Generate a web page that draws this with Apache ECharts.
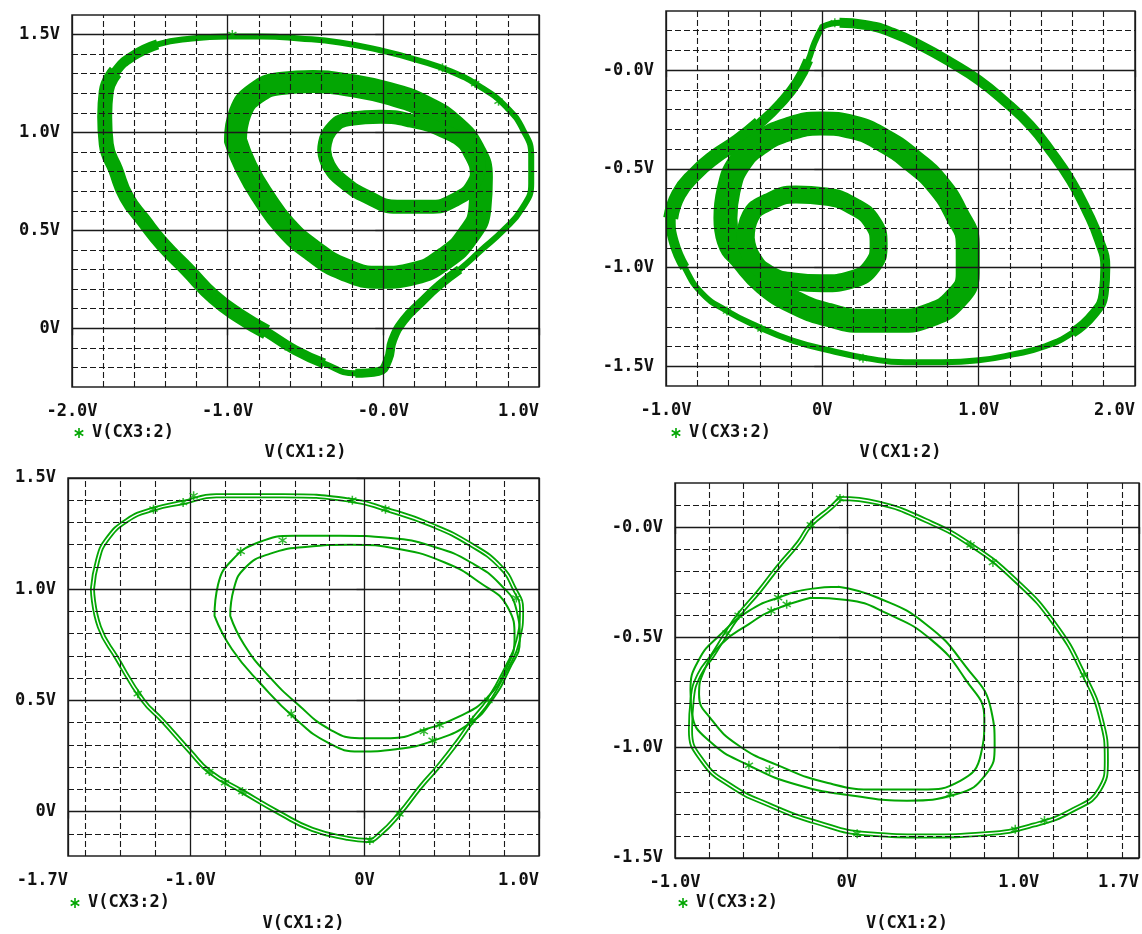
<!DOCTYPE html>
<html><head><meta charset="utf-8">
<script src="https://cdn.jsdelivr.net/npm/echarts@6/dist/echarts.min.js"></script>
<style>html,body{margin:0;padding:0;background:#fff}#c{width:1142px;height:934px}</style>
</head><body><div id="c"></div>
<script>
const GREEN = '#03a603';
const INK = '#111111';
const FONT = '"DejaVu Sans Mono", monospace';

// ---------- tick labels ----------
const tlXTicks = [-2, -1, 0, 1];      const tlXText = ['-2.0V', '-1.0V', '-0.0V', '1.0V'];
const tlYTicks = [0, 0.5, 1.0, 1.5];  const tlYText = ['0V', '0.5V', '1.0V', '1.5V'];
const trXTicks = [-1, 0, 1, 2];       const trXText = ['-1.0V', '0V', '1.0V', '2.0V'];
const trYTicks = [-1.5, -1.0, -0.5, 0]; const trYText = ['-1.5V', '-1.0V', '-0.5V', '-0.0V'];
const blXTicks = [-1.7, -1, 0, 1];    const blXText = ['-1.7V', '-1.0V', '0V', '1.0V'];
const blYTicks = [0, 0.5, 1.0, 1.5];  const blYText = ['0V', '0.5V', '1.0V', '1.5V'];
const brXTicks = [-1, 0, 1, 1.7];     const brXText = ['-1.0V', '0V', '1.0V', '1.7V'];
const brYTicks = [-1.5, -1.0, -0.5, 0]; const brYText = ['-1.5V', '-1.0V', '-0.5V', '-0.0V'];

// ---------- grid line values ----------
const tlXMinor = [-1.8,-1.6,-1.4,-1.2,-0.8,-0.6,-0.4,-0.2,0.2,0.4,0.6,0.8];
const tlYMinor = [-0.2,-0.1,0.1,0.2,0.3,0.4,0.6,0.7,0.8,0.9,1.1,1.2,1.3,1.4];
const trXMinor = [-0.8,-0.6,-0.4,-0.2,0.2,0.4,0.6,0.8,1.2,1.4,1.6,1.8];
const trYMinor = [-1.4,-1.3,-1.2,-1.1,-0.9,-0.8,-0.7,-0.6,-0.4,-0.3,-0.2,-0.1,0.1,0.2];
const blXMinor = [-1.6,-1.4,-1.2,-0.8,-0.6,-0.4,-0.2,0.2,0.4,0.6,0.8];
const blYMinor = [-0.1,0.1,0.2,0.3,0.4,0.6,0.7,0.8,0.9,1.1,1.2,1.3,1.4];
const brXMinor = [-0.8,-0.6,-0.4,-0.2,0.2,0.4,0.6,0.8,1.2,1.4,1.6];
const brYMinor = [-1.4,-1.3,-1.2,-1.1,-0.9,-0.8,-0.7,-0.6,-0.4,-0.3,-0.2,-0.1,0.1];

// ---------- traces: [V(CX1:2), V(CX3:2)] ----------
// top-left
const tlOuter = [[-1.00,1.49],[-0.78,1.49],[-0.54,1.48],[-0.28,1.46],[-0.02,1.42],[0.22,1.37],[0.44,1.31],[0.63,1.23],[0.79,1.13],[0.90,1.01],[0.95,0.88],[0.95,0.74],[0.89,0.61],[0.77,0.50],[0.63,0.40],[0.49,0.30],[0.36,0.22],[0.24,0.13],[0.13,0.04],[0.06,-0.06],[0.03,-0.16],[-0.03,-0.22],[-0.18,-0.23],[-0.38,-0.18],[-0.57,-0.11],[-0.75,-0.02],[-0.92,0.06],[-1.09,0.16],[-1.26,0.30],[-1.42,0.43],[-1.54,0.55],[-1.65,0.67],[-1.72,0.81],[-1.78,0.94],[-1.79,1.08],[-1.78,1.21],[-1.72,1.31],[-1.61,1.39],[-1.45,1.45],[-1.23,1.48],[-1.00,1.49]];
const tlOuterMid = [[-1.45,1.45],[-1.61,1.39],[-1.72,1.31],[-1.78,1.21],[-1.79,1.08],[-1.78,0.94],[-1.72,0.81],[-1.65,0.67],[-1.54,0.55],[-1.42,0.43],[-1.26,0.30],[-1.09,0.16],[-0.92,0.06],[-0.75,-0.02],[-0.57,-0.11],[-0.38,-0.18]];
const tlOuterThick = [[-1.72,1.31],[-1.78,1.21],[-1.79,1.08],[-1.78,0.94],[-1.72,0.81],[-1.65,0.67],[-1.54,0.55],[-1.42,0.43],[-1.26,0.30],[-1.09,0.16],[-0.92,0.06],[-0.75,-0.02]];
const tlCurl = [[0.49,0.30],[0.36,0.22],[0.24,0.13],[0.13,0.04],[0.06,-0.06],[0.03,-0.16],[-0.03,-0.22],[-0.18,-0.23]];
const tlRing = [[-0.95,0.96],[-0.92,1.10],[-0.82,1.20],[-0.66,1.25],[-0.45,1.26],[-0.21,1.24],[0.03,1.20],[0.27,1.13],[0.46,1.03],[0.58,0.91],[0.63,0.77],[0.62,0.61],[0.54,0.47],[0.40,0.36],[0.20,0.28],[-0.02,0.26],[-0.25,0.30],[-0.46,0.40],[-0.63,0.52],[-0.77,0.67],[-0.88,0.82],[-0.95,0.96]];
const tlSmall = [[-0.38,0.91],[-0.34,1.01],[-0.21,1.07],[-0.02,1.08],[0.18,1.06],[0.38,1.01],[0.54,0.93],[0.61,0.84],[0.58,0.74],[0.47,0.66],[0.29,0.62],[0.09,0.62],[-0.10,0.67],[-0.26,0.75],[-0.35,0.83],[-0.38,0.91]];
const tlMarks = [[-0.97,1.50],[0.38,1.33],[0.59,1.25],[0.74,1.16],[-1.09,0.16],[-0.63,-0.09]];

// top-right
const trOuter = [[0.00,0.22],[0.11,0.24],[0.27,0.23],[0.45,0.19],[0.64,0.12],[0.82,0.04],[1.00,-0.05],[1.17,-0.16],[1.33,-0.28],[1.47,-0.42],[1.59,-0.56],[1.69,-0.71],[1.77,-0.86],[1.81,-1.00],[1.80,-1.13],[1.73,-1.24],[1.60,-1.33],[1.42,-1.40],[1.22,-1.44],[1.00,-1.47],[0.77,-1.48],[0.53,-1.48],[0.29,-1.46],[0.05,-1.42],[-0.19,-1.37],[-0.41,-1.30],[-0.61,-1.22],[-0.77,-1.13],[-0.88,-1.00],[-0.95,-0.87],[-0.97,-0.75],[-0.92,-0.63],[-0.82,-0.53],[-0.69,-0.44],[-0.54,-0.36],[-0.40,-0.27],[-0.27,-0.17],[-0.16,-0.06],[-0.09,0.05],[-0.05,0.14],[0.00,0.22]];
const trArc = [[0.11,0.24],[0.27,0.23],[0.45,0.19],[0.64,0.12],[0.82,0.04],[1.00,-0.05],[1.17,-0.16],[1.33,-0.28],[1.47,-0.42],[1.59,-0.56],[1.69,-0.71],[1.77,-0.86],[1.81,-1.00],[1.80,-1.13],[1.73,-1.24],[1.60,-1.33]];
const trBandMid = [[-0.88,-1.00],[-0.95,-0.87],[-0.97,-0.75],[-0.92,-0.63],[-0.82,-0.53],[-0.69,-0.44],[-0.54,-0.36],[-0.40,-0.27],[-0.27,-0.17],[-0.16,-0.06],[-0.09,0.05]];
const trBandThick = [[-0.97,-0.75],[-0.92,-0.63],[-0.82,-0.53],[-0.69,-0.44],[-0.54,-0.36],[-0.40,-0.27]];
const trRing = [[-0.62,-0.75],[-0.60,-0.61],[-0.53,-0.47],[-0.40,-0.37],[-0.22,-0.30],[-0.01,-0.27],[0.20,-0.29],[0.40,-0.36],[0.58,-0.46],[0.74,-0.58],[0.86,-0.73],[0.93,-0.88],[0.93,-1.03],[0.85,-1.16],[0.69,-1.24],[0.48,-1.27],[0.26,-1.27],[0.04,-1.24],[-0.17,-1.18],[-0.37,-1.08],[-0.51,-0.96],[-0.60,-0.86],[-0.62,-0.75]];
const trSmall = [[-0.49,-0.85],[-0.46,-0.74],[-0.35,-0.67],[-0.17,-0.63],[0.02,-0.64],[0.20,-0.69],[0.32,-0.77],[0.36,-0.88],[0.32,-0.99],[0.19,-1.06],[0.00,-1.08],[-0.19,-1.07],[-0.35,-1.03],[-0.45,-0.95],[-0.49,-0.85]];
const trMarks = [[0.08,0.24],[-0.61,-1.22],[-0.39,-1.31],[0.26,-1.46],[1.81,-0.97],[1.20,-0.18]];

// bottom-left
const blOuter = [[-1.56,1.00],[-1.53,1.13],[-1.48,1.22],[-1.36,1.31],[-1.21,1.36],[-1.04,1.39],[-0.85,1.42],[-0.47,1.42],[-0.08,1.40],[0.12,1.36],[0.38,1.29],[0.61,1.20],[0.78,1.10],[0.86,1.00],[0.90,0.91],[0.88,0.77],[0.81,0.64],[0.71,0.50],[0.62,0.41],[0.53,0.31],[0.42,0.20],[0.32,0.11],[0.20,-0.01],[0.09,-0.10],[0.02,-0.13],[-0.10,-0.12],[-0.30,-0.08],[-0.48,-0.01],[-0.70,0.09],[-0.89,0.18],[-1.00,0.27],[-1.16,0.41],[-1.27,0.50],[-1.42,0.69],[-1.52,0.83],[-1.56,1.00]];
const blInnerA = [[-0.86,0.88],[-0.84,1.02],[-0.76,1.13],[-0.61,1.21],[-0.40,1.24],[-0.14,1.24],[0.15,1.23],[0.40,1.19],[0.61,1.12],[0.78,1.02],[0.87,0.91],[0.89,0.77],[0.83,0.64],[0.73,0.50],[0.61,0.40],[0.40,0.32],[0.18,0.28],[-0.03,0.27],[-0.21,0.31],[-0.40,0.42],[-0.59,0.57],[-0.76,0.73],[-0.86,0.88]];
const blInnerB = [[-0.77,0.88],[-0.75,1.00],[-0.68,1.10],[-0.54,1.16],[-0.34,1.19],[-0.08,1.20],[0.20,1.18],[0.46,1.12],[0.66,1.03],[0.82,0.92],[0.86,0.78],[0.81,0.64],[0.70,0.51],[0.55,0.43],[0.35,0.37],[0.15,0.33],[-0.03,0.33],[-0.20,0.37],[-0.38,0.48],[-0.55,0.61],[-0.69,0.75],[-0.77,0.88]];
const blMarks = [[-1.21,1.36],[-1.04,1.39],[-0.98,1.42],[-0.71,1.17],[-0.47,1.22],[-0.89,0.18],[-0.80,0.13],[-0.70,0.09],[-0.42,0.44],[0.03,-0.13],[0.20,-0.01],[0.34,0.36],[0.43,0.39],[0.39,0.32],[0.62,0.41],[0.71,0.50],[-0.07,1.40],[0.12,1.36],[0.87,0.96],[-1.30,0.53]];

// bottom-right
const brOuter = [[-0.04,0.13],[0.18,0.11],[0.46,0.03],[0.72,-0.08],[0.98,-0.24],[1.21,-0.44],[1.38,-0.67],[1.48,-0.87],[1.51,-1.06],[1.47,-1.19],[1.32,-1.28],[1.09,-1.35],[0.81,-1.39],[0.46,-1.40],[0.12,-1.39],[-0.17,-1.34],[-0.45,-1.26],[-0.68,-1.17],[-0.84,-1.06],[-0.91,-0.92],[-0.90,-0.78],[-0.86,-0.67],[-0.78,-0.58],[-0.70,-0.48],[-0.63,-0.40],[-0.51,-0.29],[-0.40,-0.18],[-0.28,-0.07],[-0.21,0.01],[-0.09,0.09],[-0.04,0.13]];
const brInnerA = [[-0.05,-0.27],[0.18,-0.32],[0.46,-0.44],[0.69,-0.63],[0.84,-0.83],[0.86,-0.99],[0.81,-1.12],[0.64,-1.21],[0.35,-1.24],[0.06,-1.22],[-0.28,-1.17],[-0.57,-1.08],[-0.80,-0.97],[-0.90,-0.85],[-0.91,-0.74],[-0.86,-0.60],[-0.74,-0.49],[-0.57,-0.38],[-0.40,-0.32],[-0.21,-0.28],[-0.05,-0.27]];
const brInnerB = [[-0.21,-0.32],[0.00,-0.33],[0.23,-0.39],[0.49,-0.51],[0.69,-0.69],[0.80,-0.87],[0.78,-1.03],[0.66,-1.15],[0.43,-1.19],[0.18,-1.19],[-0.11,-1.16],[-0.40,-1.08],[-0.63,-0.99],[-0.79,-0.87],[-0.86,-0.76],[-0.83,-0.65],[-0.73,-0.53],[-0.57,-0.44],[-0.44,-0.38],[-0.21,-0.32]];
const brMarks = [[-0.70,-0.48],[-0.63,-0.40],[-0.40,-0.32],[-0.44,-0.38],[-0.35,-0.35],[-0.21,0.01],[-0.04,0.13],[0.72,-0.08],[0.85,-0.16],[1.38,-0.67],[0.60,-1.21],[0.06,-1.39],[0.98,-1.37],[1.15,-1.33],[-0.57,-1.08],[-0.45,-1.10]];

const ASTER = 'M4.2,0 H5.8 V10 H4.2 Z M1.14,1.53 L9.74,7.13 L8.86,8.47 L0.26,2.87 Z M9.74,2.87 L1.14,8.47 L0.26,7.13 L8.86,1.53 Z';

const panels = [
  { grid:{left:72, top:15, width:467, height:372}, xr:[-2,1], yr:[-0.3,1.6],
    xt:tlXTicks, xs:tlXText, yt:tlYTicks, ys:tlYText, xm:tlXMinor, ym:tlYMinor, minAlign:'center', gap:57, leg:[79,433] },
  { grid:{left:666, top:11, width:469, height:375}, xr:[-1,2], yr:[-1.6,0.3],
    xt:trXTicks, xs:trXText, yt:trYTicks, ys:trYText, xm:trXMinor, ym:trYMinor, minAlign:'center', gap:58, leg:[676,433] },
  { grid:{left:68, top:478, width:471, height:378}, xr:[-1.7,1], yr:[-0.2,1.5],
    xt:blXTicks, xs:blXText, yt:blYTicks, ys:blYText, xm:blXMinor, ym:blYMinor, minAlign:'right', gap:59, leg:[75,903] },
  { grid:{left:675, top:483, width:465, height:375}, xr:[-1,1.7], yr:[-1.5,0.2],
    xt:brXTicks, xs:brXText, yt:brYTicks, ys:brYText, xm:brXMinor, ym:brYMinor, minAlign:'center', gap:57, leg:[683,903] }
];

function fmt(ticks, texts) {
  return function (v) {
    for (let i = 0; i < ticks.length; i++) if (Math.abs(v - ticks[i]) < 1e-6) return texts[i];
    return '';
  };
}
const labelStyle = { fontFamily: FONT, fontWeight: 'bold', fontSize: 17, color: INK };

const grids = [], xAxes = [], yAxes = [], series = [], graphic = [];
panels.forEach((p, i) => {
  grids.push(Object.assign({ show: true, borderColor: '#222', borderWidth: 1.5, containLabel: false }, p.grid));
  xAxes.push({
    gridIndex: i, type: 'value', min: p.xr[0], max: p.xr[1], interval: 0.1,
    axisLine: { show: false }, splitLine: { show: false },
    axisTick: { show: true, customValues: p.xt, length: 7, lineStyle: { color: '#222', width: 1.3 } },
    axisLabel: Object.assign({ customValues: p.xt, formatter: fmt(p.xt, p.xs), margin: 16,
      alignMinLabel: p.minAlign, alignMaxLabel: 'right' }, labelStyle),
    name: 'V(CX1:2)', nameLocation: 'middle', nameGap: p.gap,
    nameTextStyle: labelStyle
  });
  yAxes.push({
    gridIndex: i, type: 'value', min: p.yr[0], max: p.yr[1], interval: 0.1,
    axisLine: { show: false }, splitLine: { show: false },
    axisTick: { show: true, customValues: p.yt, length: 8, lineStyle: { color: '#222', width: 1.3 } },
    axisLabel: Object.assign({ customValues: p.yt, formatter: fmt(p.yt, p.ys), margin: 12 }, labelStyle)
  });
  const ml = [];
  p.xm.forEach(v => ml.push({ xAxis: v, lineStyle: { type: [6, 3], color: '#1a1a1a', width: 1.1 } }));
  p.ym.forEach(v => ml.push({ yAxis: v, lineStyle: { type: [6, 3], color: '#1a1a1a', width: 1.1 } }));
  p.xt.forEach(v => ml.push({ xAxis: v, lineStyle: { type: 'solid', color: '#1a1a1a', width: 1.3 } }));
  p.yt.forEach(v => ml.push({ yAxis: v, lineStyle: { type: 'solid', color: '#1a1a1a', width: 1.3 } }));
  series.push({
    type: 'line', xAxisIndex: i, yAxisIndex: i, data: [], z: 1, silent: true,
    markLine: { silent: true, symbol: ['none', 'none'], animation: false, label: { show: false },
      data: ml }
  });
  const cx = p.leg[0], cy = p.leg[1];
  [[0, -5, 0, 5], [-4.3, -2.5, 4.3, 2.5], [-4.3, 2.5, 4.3, -2.5]].forEach(s => {
    graphic.push({ type: 'line', silent: true,
      shape: { x1: cx + s[0], y1: cy + s[1], x2: cx + s[2], y2: cy + s[3] },
      style: { stroke: GREEN, lineWidth: 1.6 } });
  });
  graphic.push({ type: 'text', x: cx + 13, y: cy, silent: true, style: { text: 'V(CX3:2)', fill: INK,
    font: 'bold 17px ' + FONT, verticalAlign: 'middle' } });
});

function curve(gi, data, width, color, cap) {
  return { type: 'line', name: 'V(CX3:2)', xAxisIndex: gi, yAxisIndex: gi, data: data, smooth: 0.5,
    showSymbol: false, silent: true, z: 3, animation: false,
    lineStyle: { color: color || GREEN, width: width, cap: cap || 'round', join: 'round' } };
}
function marks(gi, data) {
  return { type: 'scatter', xAxisIndex: gi, yAxisIndex: gi, data: data, symbol: 'path://' + ASTER,
    symbolSize: 9, itemStyle: { color: GREEN }, silent: true, z: 5, animation: false };
}

series.push(curve(0, tlOuter, 6), curve(0, tlOuterMid, 10, null, 'butt'), curve(0, tlOuterThick, 15, null, 'butt'),
            curve(0, tlCurl, 9, null, 'butt'), curve(0, tlRing, 23), curve(0, tlSmall, 14), marks(0, tlMarks));
series.push(curve(1, trOuter, 6), curve(1, trArc, 10, null, 'butt'), curve(1, trBandMid, 10, null, 'butt'),
            curve(1, trBandThick, 15, null, 'butt'), curve(1, trRing, 24), curve(1, trSmall, 18), marks(1, trMarks));
series.push(curve(2, blOuter, 5), curve(2, blOuter, 1.4, '#ffffff'),
            curve(2, blInnerA, 2), curve(2, blInnerB, 2), marks(2, blMarks));
series.push(curve(3, brOuter, 5), curve(3, brOuter, 1.4, '#ffffff'),
            curve(3, brInnerA, 2), curve(3, brInnerB, 2), marks(3, brMarks));

const chart = echarts.init(document.getElementById('c'), null, { renderer: 'canvas' });
chart.setOption({
  backgroundColor: '#ffffff', animation: false,
  grid: grids, xAxis: xAxes, yAxis: yAxes, series: series, graphic: graphic
});
</script></body></html>
